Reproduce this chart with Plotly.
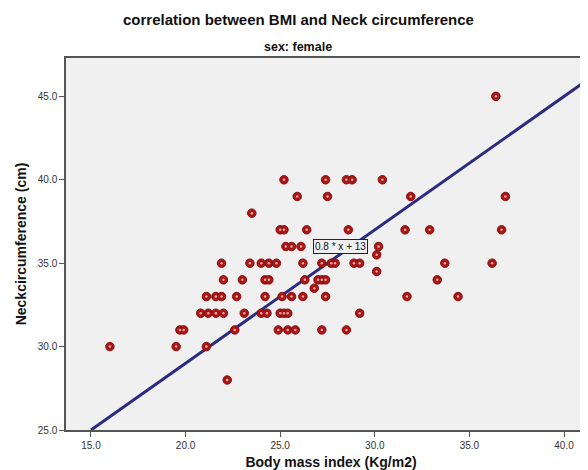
import plotly.graph_objects as go

# Body mass index (Kg/m2) and neck circumference (cm), female
bmi = [
    36.4,
    25.2, 27.4, 28.5, 28.8, 30.4,
    25.9, 27.5, 31.9, 36.9,
    23.5,
    25.0, 25.2, 26.4, 28.6, 31.6, 32.9, 36.7,
    25.3, 25.6, 26.1, 30.2,
    30.1,
    21.9, 23.4, 24.0, 24.4, 24.8, 26.2, 27.2, 27.7, 27.9, 28.9, 29.2, 33.7, 36.2,
    30.1,
    22.0, 23.0, 24.2, 24.4, 26.3, 27.0, 27.2, 27.4, 33.3,
    26.8,
    21.1, 21.6, 21.9, 22.7, 24.2, 25.1, 25.6, 26.2, 27.4, 31.7, 34.4,
    20.8, 21.2, 21.6, 22.0, 23.1, 24.0, 24.3, 25.0, 25.2, 25.4, 29.2,
    19.7, 19.9, 22.6, 24.9, 25.4, 25.8, 27.2, 28.5,
    16.0, 19.5, 21.1,
    22.2,
]
neck = [
    45.0,
    40.0, 40.0, 40.0, 40.0, 40.0,
    39.0, 39.0, 39.0, 39.0,
    38.0,
    37.0, 37.0, 37.0, 37.0, 37.0, 37.0, 37.0,
    36.0, 36.0, 36.0, 36.0,
    35.5,
    35.0, 35.0, 35.0, 35.0, 35.0, 35.0, 35.0, 35.0, 35.0, 35.0, 35.0, 35.0, 35.0,
    34.5,
    34.0, 34.0, 34.0, 34.0, 34.0, 34.0, 34.0, 34.0, 34.0,
    33.5,
    33.0, 33.0, 33.0, 33.0, 33.0, 33.0, 33.0, 33.0, 33.0, 33.0, 33.0,
    32.0, 32.0, 32.0, 32.0, 32.0, 32.0, 32.0, 32.0, 32.0, 32.0, 32.0,
    31.0, 31.0, 31.0, 31.0, 31.0, 31.0, 31.0, 31.0,
    30.0, 30.0, 30.0,
    28.0,
]

fit_slope = 0.8
fit_intercept = 13
fit_label = "0.8 * x + 13"
x_ticks = [15.0, 20.0, 25.0, 30.0, 35.0, 40.0]
y_ticks = [25.0, 30.0, 35.0, 40.0, 45.0]

x_range = [13.68, 41.69]
y_range = [25.0, 47.3]

fit_x = [15.0, x_range[1]]
fit_y = [fit_slope * v + fit_intercept for v in fit_x]

FONT = "Arial, Liberation Sans, sans-serif"
PLOT_W = 530  # plot-area width in px

fig = go.Figure()
fig.add_trace(go.Scatter(
    x=fit_x, y=fit_y, mode="lines",
    line=dict(color="#2b2b80", width=3),
    hoverinfo="skip", showlegend=False,
))
fig.add_trace(go.Scatter(
    x=bmi, y=neck, mode="markers",
    marker=dict(symbol="circle", size=8.5, color="#a81515",
                line=dict(color="#8e0f0f", width=1)),
    showlegend=False,
))
fig.add_trace(go.Scatter(
    x=bmi, y=neck, mode="markers",
    marker=dict(symbol="circle", size=2.5, color="#e8a8a8", line=dict(width=0)),
    showlegend=False, hoverinfo="skip",
))

fig.add_annotation(
    x=28.17, y=36.0, xref="x", yref="y", text=fit_label, showarrow=False,
    font=dict(family=FONT, size=10, color="#111"),
    bordercolor="#222", borderwidth=1, borderpad=1, bgcolor="#f0f0f0",
)

fig.add_annotation(
    x=(298 - 66) / PLOT_W, y=1 + (58 - 20) / 369, xref="paper", yref="paper",
    text="<b>correlation between BMI and Neck circumference</b>",
    showarrow=False, font=dict(family=FONT, size=15, color="#111"),
    yanchor="middle",
)
fig.add_annotation(
    x=(298 - 66) / PLOT_W, y=1 + (58 - 47) / 369, xref="paper", yref="paper",
    text="<b>sex: female</b>",
    showarrow=False, font=dict(family=FONT, size=12.5, color="#111"),
    yanchor="middle",
)

# page has an 8px body margin; the plot area runs past the right window edge
fig.update_layout(
    width=588, height=462,
    margin=dict(l=58, r=0, t=50, b=35),
    paper_bgcolor="white", plot_bgcolor="#f0f0f0",
    font=dict(family=FONT, size=10, color="#333"),
)
fig.update_xaxes(
    range=x_range, tickvals=x_ticks, tickformat=".1f",
    showgrid=False, zeroline=False,
    showline=True, linecolor="#555", linewidth=1.5, mirror=True,
    ticks="outside", ticklen=5, tickcolor="#555",
    tickfont=dict(size=10, color="#333"),
    title=dict(text="<b>Body mass index (Kg/m2)</b>",
               font=dict(family=FONT, size=14, color="#111"), standoff=9),
)
fig.update_yaxes(
    range=y_range, tickvals=y_ticks, tickformat=".1f",
    showgrid=False, zeroline=False,
    showline=True, linecolor="#555", linewidth=1.5, mirror=False,
    ticks="outside", ticklen=5, tickcolor="#555",
    tickfont=dict(size=10, color="#333"),
    title=dict(text="<b>Neckcircumference (cm)</b>",
               font=dict(family=FONT, size=14, color="#111"), standoff=8),
)

fig.write_html("out.html")
